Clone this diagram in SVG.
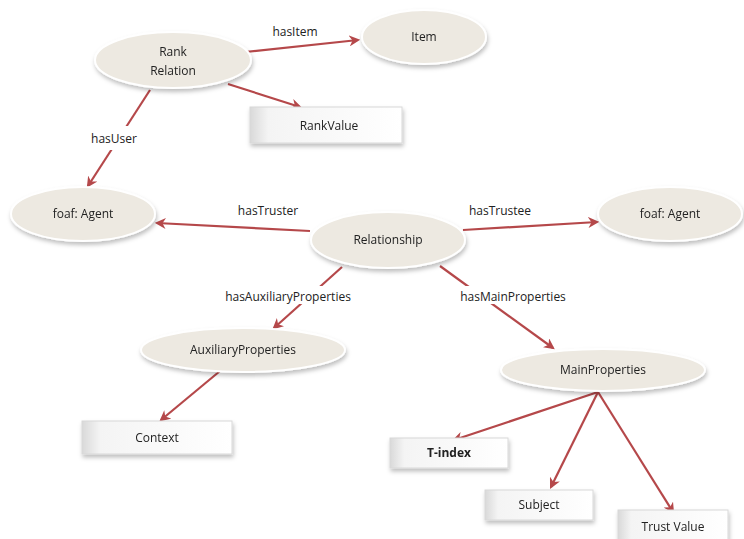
<svg xmlns="http://www.w3.org/2000/svg" width="744" height="539" viewBox="0 0 744 539">
<defs>
<style>
.n{fill:#ede9e1;stroke:#ffffff;stroke-width:2}
.bx{fill:url(#bg);stroke:#d8d8d8;stroke-width:1}
.t{font-family:"Open Sans","Liberation Sans",sans-serif;font-size:12px;fill:#222;text-anchor:middle}
.b{font-weight:bold}
.e{stroke:#b5484a;stroke-width:2.2;fill:none;marker-end:url(#ah)}
.l{font-family:"Open Sans","Liberation Sans",sans-serif;font-size:12px;fill:#222;text-anchor:middle}
</style>
<marker id="ah" viewBox="0 0 10 10" refX="8" refY="5" markerWidth="5" markerHeight="5" orient="auto" markerUnits="strokeWidth">
<path d="M0,0 L10,5 L0,10 L3,5 z" fill="#b5484a"/>
</marker>
<linearGradient id="bg" x1="0" y1="0" x2="1" y2="0">
<stop offset="0" stop-color="#d9d9d9"/>
<stop offset="0.12" stop-color="#f4f4f4"/>
<stop offset="1" stop-color="#ffffff"/>
</linearGradient>
<filter id="sh" x="-20%" y="-30%" width="140%" height="170%">
<feDropShadow dx="1" dy="3" stdDeviation="2" flood-color="#000" flood-opacity="0.25"/>
</filter>
</defs>
<rect width="744" height="539" fill="#ffffff"/>
<g id="connectors">
<line class="e" x1="245" y1="52" x2="358" y2="40"/>
<line class="e" x1="228" y1="84" x2="300" y2="107"/>
<line class="e" x1="150" y1="90" x2="88" y2="186"/>
<line class="e" x1="310" y1="231" x2="157" y2="223"/>
<line class="e" x1="463" y1="230" x2="597" y2="222"/>
<line class="e" x1="342" y1="267" x2="274" y2="328"/>
<line class="e" x1="440" y1="266" x2="553" y2="348"/>
<line class="e" x1="220" y1="371" x2="161" y2="420"/>
<line class="e" x1="598" y1="392" x2="454" y2="440"/>
<line class="e" x1="598" y1="392" x2="551" y2="487"/>
<line class="e" x1="598" y1="392" x2="673" y2="512"/>
<rect x="88" y="126" width="52" height="24" fill="#fff"/>
<rect x="212" y="286" width="150" height="18" fill="#fff"/>
<rect x="454" y="286" width="118" height="18" fill="#fff"/>
<text class="l" x="295" y="36">hasItem</text>
<text class="l" x="114" y="143">hasUser</text>
<text class="l" x="268" y="215">hasTruster</text>
<text class="l" x="500" y="215">hasTrustee</text>
<text class="l" x="288" y="301">hasAuxiliaryProperties</text>
<text class="l" x="513" y="301">hasMainProperties</text>
</g>
<g id="rankrelation" filter="url(#sh)"><ellipse class="n" cx="173" cy="60" rx="78" ry="28"/><text class="t" x="173" y="56">Rank</text><text class="t" x="173" y="75">Relation</text></g>
<g id="item" filter="url(#sh)"><ellipse class="n" cx="424" cy="37" rx="62" ry="27"/><text class="t" x="424" y="41">Item</text></g>
<g id="rankvalue" filter="url(#sh)"><rect class="bx" x="250" y="107" width="152" height="36"/><text class="t" x="329" y="130">RankValue</text></g>
<g id="agent1" filter="url(#sh)"><ellipse class="n" cx="83" cy="214" rx="72" ry="27"/><text class="t" x="83" y="218">foaf: Agent</text></g>
<g id="relationship" filter="url(#sh)"><ellipse class="n" cx="388" cy="240" rx="77" ry="28"/><text class="t" x="388" y="244">Relationship</text></g>
<g id="agent2" filter="url(#sh)"><ellipse class="n" cx="670" cy="214" rx="72" ry="27"/><text class="t" x="670" y="218">foaf: Agent</text></g>
<g id="auxiliary" filter="url(#sh)"><ellipse class="n" cx="243" cy="350" rx="102" ry="22"/><text class="t" x="243" y="354">AuxiliaryProperties</text></g>
<g id="mainprops" filter="url(#sh)"><ellipse class="n" cx="603" cy="370" rx="102" ry="21"/><text class="t" x="603" y="374">MainProperties</text></g>
<g id="context" filter="url(#sh)"><rect class="bx" x="82" y="421" width="150" height="33"/><text class="t" x="157" y="442">Context</text></g>
<g id="tindex" filter="url(#sh)"><rect class="bx" x="390" y="438" width="118" height="30"/><text class="t b" x="449" y="457">T-index</text></g>
<g id="subject" filter="url(#sh)"><rect class="bx" x="485" y="490" width="108" height="30"/><text class="t" x="539" y="509">Subject</text></g>
<g id="trustvalue" filter="url(#sh)"><rect class="bx" x="618" y="510" width="110" height="32"/><text class="t" x="673" y="531">Trust Value</text></g>
</svg>
